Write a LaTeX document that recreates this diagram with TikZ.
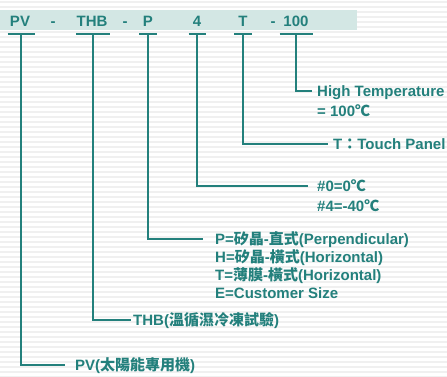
\documentclass[tikz,border=0pt]{standalone}
\usepackage{fontspec}
\setmainfont{Liberation Sans}
\newfontfamily\cjk{Noto Sans CJK TC}
\usetikzlibrary{positioning}
\definecolor{codeteal}{HTML}{23807C}
\definecolor{bandteal}{HTML}{D3E7E4}
\newcommand{\zh}[1]{{\cjk #1}}
\tikzset{
  code/.style={font=\fontsize{15}{18}\selectfont\bfseries, text=codeteal, inner sep=0pt, anchor=base},
  desc/.style={font=\fontsize{15}{18}\selectfont\bfseries, text=codeteal, inner sep=0pt, anchor=west, text height=10.7pt, text depth=0pt},
  bar/.style={draw=codeteal, line width=2pt},
  leader/.style={draw=codeteal, line width=1.6pt},
  stripe/.style={draw=black!6, line width=2pt}
}
\begin{document}
\begin{tikzpicture}[x=1pt, y=-1pt]
  \useasboundingbox (0,0) rectangle (447,376);
  % Striped background
  \fill[white] (0,0) rectangle (447,376);
  \foreach \y in {2,7,...,377}
    \draw[stripe] (0,\y) -- (447,\y);
  % Header band
  \fill[bandteal] (0,10) rectangle (357,30);

  % Model code
  \node[code] (pv) at (20,26) {PV};
  \node[code] (dash1) at (53,26) {-};
  \node[code] (thb) at (92,26) {THB};
  \node[code] (dash2) at (125,26) {-};
  \node[code] (panel) at (148,26) {P};
  \node[code] (temp) at (197,26) {4};
  \node[code] (touch) at (243,26) {T};
  \node[code] (dash3) at (273,26) {-};
  \node[code] (hot) at (296,26) {100};

  % Bars under each field
  \foreach \n/\x/\w in {pv/21/13.5, thb/93/17, panel/148/9, temp/197/8.5, touch/243/9, hot/296/16.5} {
      \coordinate (bar-\n) at (\x,34);
      \draw[bar] (\x-\w,34) -- (\x+\w,34);
    }

  % Descriptions
  \node[desc] (hotA) at (317,91) {High Temperature};
  \node[desc] (hotB) at (317,111) {= 100\zh{℃}};
  \node[desc] (touchA) at (333,144) {T\zh{：}Touch Panel};
  \node[desc] (tempA) at (317,186) {\#0=0\zh{℃}};
  \node[desc] (tempB) at (317,206) {\#4=-40\zh{℃}};
  \node[desc] (panelA) at (215,239) {P=\zh{矽晶}-\zh{直式}(Perpendicular)};
  \node[desc] (panelB) at (215,257) {H=\zh{矽晶}-\zh{橫式}(Horizontal)};
  \node[desc] (panelC) at (215,275) {T=\zh{薄膜}-\zh{橫式}(Horizontal)};
  \node[desc] (panelD) at (215,293) {E=Customer Size};
  \node[desc] (thbA) at (133,320) {THB(\zh{溫循濕冷凍試驗})};
  \node[desc] (pvA) at (75,365) {PV(\zh{太陽能專用機})};

  % Leaders
  \draw[leader] (bar-hot) |- ([xshift=-5pt]hotA.west);
  \draw[leader] (bar-touch) |- ([xshift=-5pt]touchA.west);
  \draw[leader] (bar-temp) |- ([xshift=-9pt]tempA.west);
  \draw[leader] (bar-panel) |- ([xshift=-12pt]panelA.west);
  \draw[leader] (bar-thb) |- ([xshift=-2pt]thbA.west);
  \draw[leader] (bar-pv) |- ([xshift=-10pt]pvA.west);
\end{tikzpicture}
\end{document}
